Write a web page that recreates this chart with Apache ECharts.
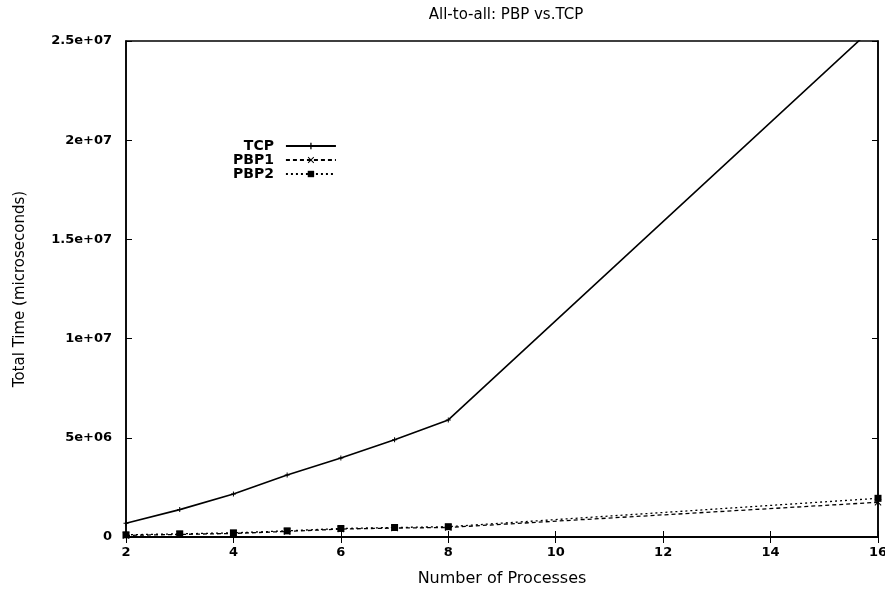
<!DOCTYPE html>
<html>
<head>
<meta charset="utf-8">
<script src="https://cdn.jsdelivr.net/npm/echarts@6/dist/echarts.min.js"></script>
<style>
  html, body { margin: 0; padding: 0; background: #fff; }
  #chart { width: 885px; height: 590px; }
</style>
</head>
<body>
<div id="chart"></div>
<script>
// number of processes
const procs = [2, 3, 4, 5, 6, 7, 8, 16];
// total time in microseconds
const tcpTime = [690000, 1380000, 2170000, 3120000, 3980000, 4900000, 5900000, 25900000];
const pbp1Time = [80000, 130000, 180000, 280000, 400000, 450000, 480000, 1750000];
const pbp2Time = [110000, 160000, 210000, 310000, 430000, 480000, 520000, 1950000];
const yTicks = [0, 5e6, 1e7, 1.5e7, 2e7, 2.5e7];

function pairs(xs, ys) {
  return xs.map(function (x, i) { return [x, ys[i]]; });
}

function expLabel(v) {
  if (v === 0) return '0';
  let parts = v.toExponential().split('e');
  let sign = parts[1][0];
  let digits = parts[1].slice(1);
  if (digits.length < 2) digits = '0' + digits;
  return parts[0] + 'e' + sign + digits;
}

const plusSym = 'path://M4,0L6,0L6,4L10,4L10,6L6,6L6,10L4,10L4,6L0,6L0,4L4,4Z';
const crossSym = 'path://M1,0L5,4L9,0L10,1L6,5L10,9L9,10L5,6L1,10L0,9L4,5L0,1Z';

const font = 'DejaVu Sans, sans-serif';
const chart = echarts.init(document.getElementById('chart'), null, { renderer: 'canvas' });

let option = {
  backgroundColor: '#fff',
  animation: false,
  title: {
    text: 'All-to-all: PBP vs.TCP',
    left: 501,
    top: 3,
    textAlign: 'center',
    textStyle: { fontFamily: font, fontSize: 15, fontWeight: 'normal', color: '#000' }
  },
  legend: {
    orient: 'vertical',
    left: 228,
    top: 134,
    align: 'right',
    itemWidth: 50,
    itemHeight: 8,
    itemGap: 0,
    textStyle: { fontFamily: font, fontSize: 14, lineHeight: 12, color: '#000', fontWeight: 'bold', padding: [0, 7, 0, 0] },
    data: ['TCP', 'PBP1', 'PBP2']
  },
  grid: {
    left: 126, right: 7, top: 41, bottom: 53,
    outerBoundsMode: 'none',
    containLabel: false,
    show: true, borderColor: '#000', borderWidth: 1.5
  },
  xAxis: [{
    type: 'value',
    min: 2, max: 16, interval: 2,
    name: 'Number of Processes',
    nameLocation: 'middle',
    nameGap: 34,
    nameTextStyle: { fontFamily: font, fontSize: 16, color: '#000' },
    axisLine: { show: true, lineStyle: { color: '#000', width: 1.5 } },
    axisTick: { show: true, inside: true, length: 6, lineStyle: { color: '#000' } },
    axisLabel: { fontFamily: font, fontSize: 13, fontWeight: 'bold', color: '#000', margin: 9 },
    splitLine: { show: false }
  }, {
    type: 'value',
    position: 'top',
    min: 2, max: 16, interval: 2,
    axisLine: { show: true, lineStyle: { color: '#000', width: 1.5 } },
    axisTick: { show: true, inside: true, length: 6, lineStyle: { color: '#000' } },
    axisLabel: { show: false },
    splitLine: { show: false }
  }],
  yAxis: [{
    type: 'value',
    min: 0, max: 2.5e7, interval: 5e6,
    name: 'Total Time (microseconds)',
    nameLocation: 'middle',
    nameGap: 98,
    nameTextStyle: { fontFamily: font, fontSize: 15, color: '#000' },
    axisLine: { show: true, lineStyle: { color: '#000', width: 1.5 } },
    axisTick: { show: true, inside: true, length: 6, lineStyle: { color: '#000' } },
    axisLabel: {
      fontFamily: font, fontSize: 13, fontWeight: 'bold', color: '#000', margin: 14,
      formatter: function (v) { return yTicks.indexOf(v) >= 0 ? expLabel(v) : ''; }
    },
    splitLine: { show: false }
  }, {
    type: 'value',
    position: 'right',
    min: 0, max: 2.5e7, interval: 5e6,
    axisLine: { show: true, lineStyle: { color: '#000', width: 1.5 } },
    axisTick: { show: true, inside: true, length: 6, lineStyle: { color: '#000' } },
    axisLabel: { show: false },
    splitLine: { show: false }
  }],
  series: [{
    name: 'TCP',
    type: 'line',
    data: pairs(procs, tcpTime),
    symbol: plusSym,
    symbolSize: 5,
    color: '#000',
    lineStyle: { color: '#000', width: 1.6, type: 'solid' },
    itemStyle: { color: '#000' },
    clip: true
  }, {
    name: 'PBP1',
    type: 'line',
    data: pairs(procs, pbp1Time),
    symbol: crossSym,
    symbolSize: 7,
    color: '#000',
    lineStyle: { color: '#000', width: 1.3, type: [4, 3] },
    itemStyle: { color: '#000' },
    clip: true
  }, {
    name: 'PBP2',
    type: 'line',
    data: pairs(procs, pbp2Time),
    symbol: 'rect',
    symbolSize: 7,
    color: '#000',
    lineStyle: { color: '#000', width: 1.3, type: [2, 3] },
    itemStyle: { color: '#000' },
    clip: true
  }]
};

chart.setOption(option);
</script>
</body>
</html>
